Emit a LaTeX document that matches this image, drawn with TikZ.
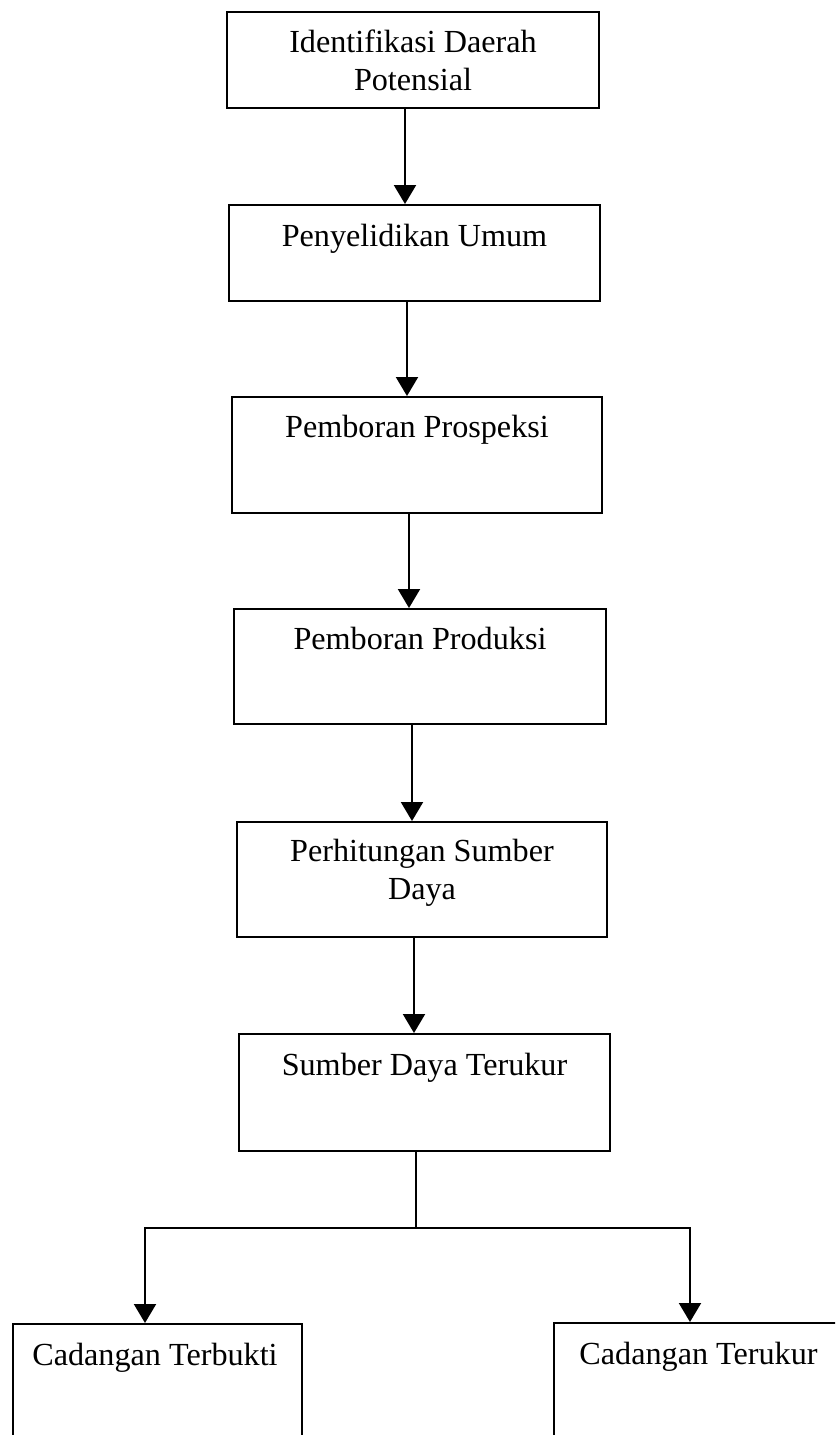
\documentclass[tikz,border=0pt]{standalone}
\usepackage{fontspec}
\setmainfont{Liberation Serif}
\usepackage{tikz}
\usetikzlibrary{arrows.meta}

\tikzset{
    box/.style={draw, line width=0.55pt, inner sep=0pt, minimum width=3.71cm, minimum height=1.15cm},
    txt/.style={anchor=north, align=center, inner sep=0pt, font=\fontsize{9.15}{10.8}\selectfont},
    arr/.style={-{Triangle[width=2.2mm,length=1.9mm]}, line width=0.6pt},
    link/.style={line width=0.6pt}
}

\begin{document}
\begin{tikzpicture}[x=0.01cm,y=-0.01cm]
            \clip (0,0) rectangle (835,1435);
            \fill[white] (0,0) rectangle (835,1435);
            % boxes
            \node[box,minimum width=3.72cm,minimum height=0.96cm] (b1) at (413,60) {};
            \node[box,minimum height=0.96cm] (b2) at (414.5,253) {};
            \node[box,minimum width=3.70cm,minimum height=1.16cm] (b3) at (417,455) {};
            \node[box,minimum width=3.72cm] (b4) at (420,666.5) {};
            \node[box,minimum width=3.70cm] (b5) at (422,879.5) {};
            \node[box,minimum height=1.17cm] (b6) at (424.5,1092.5) {};
            \node[box,minimum width=2.89cm,minimum height=1.36cm] (b7) at (157.5,1392) {};
            \node[box,minimum width=2.89cm,minimum height=1.37cm] (b8) at (698.5,1391.5) {};
            % texts
            \node[txt] (t1) at ([yshift=-0.18cm]b1.north) {Identifikasi Daerah\\Potensial};
            \node[txt] (t2) at ([yshift=-0.19cm]b2.north) {Penyelidikan Umum};
            \node[txt] (t3) at ([yshift=-0.18cm]b3.north) {Pemboran Prospeksi};
            \node[txt] (t4) at ([yshift=-0.18cm]b4.north) {Pemboran Produksi};
            \node[txt] (t5) at ([yshift=-0.17cm]b5.north) {Perhitungan Sumber\\Daya};
            \node[txt] (t6) at ([yshift=-0.19cm]b6.north) {Sumber Daya Terukur};
            \node[txt] (t7) at ([xshift=-0.025cm,yshift=-0.19cm]b7.north) {Cadangan Terbukti};
            \node[txt] (t8) at ([yshift=-0.19cm]b8.north) {Cadangan Terukur};
            % arrows
            \draw[arr] ([xshift=-0.08cm]b1.south) -- ([xshift=-0.08cm]b1.south |- b2.north);
            \draw[arr] ([xshift=-0.075cm]b2.south) -- ([xshift=-0.075cm]b2.south |- b3.north);
            \draw[arr] ([xshift=-0.08cm]b3.south) -- ([xshift=-0.08cm]b3.south |- b4.north);
            \draw[arr] ([xshift=-0.08cm]b4.south) -- ([xshift=-0.08cm]b4.south |- b5.north);
            \draw[arr] ([xshift=-0.08cm]b5.south) -- ([xshift=-0.08cm]b5.south |- b6.north);
            \coordinate (split) at ([xshift=-0.085cm,yshift=-0.76cm]b6.south);
            \draw[link] ([xshift=-0.085cm]b6.south) -- (split);
            \draw[arr] (split) -| ([xshift=-0.125cm]b7.north);
            \draw[arr] (split) -| ([xshift=-0.085cm]b8.north);
          \end{tikzpicture}
\end{document}
